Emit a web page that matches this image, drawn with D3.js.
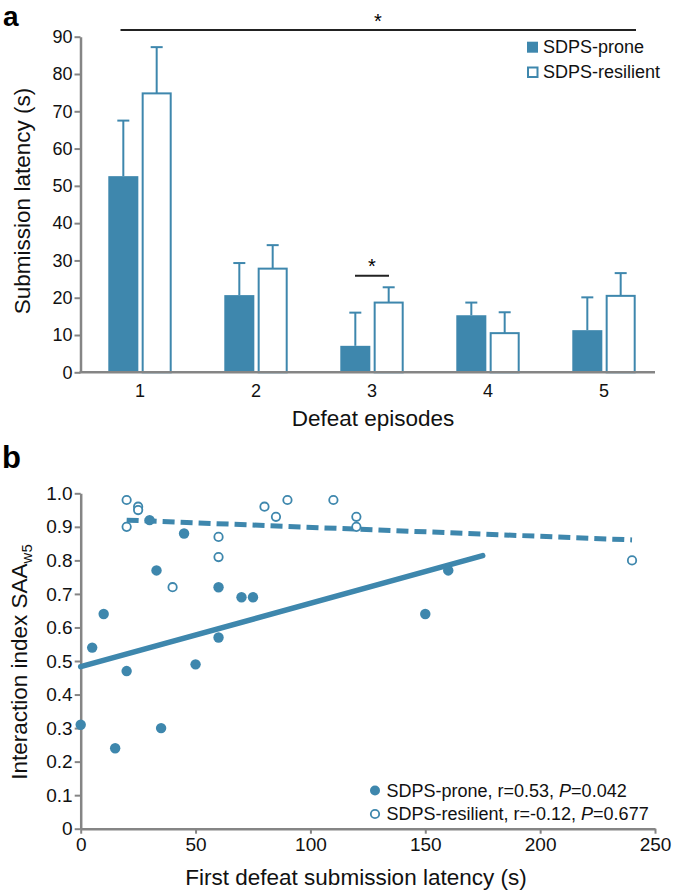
<!DOCTYPE html>
<html>
<head>
<meta charset="utf-8">
<script src="https://cdn.jsdelivr.net/npm/d3@7"></script>
<style>
  html, body { margin: 0; padding: 0; background: #fff; }
  svg { display: block; font-family: "Liberation Sans", Arial, Helvetica, sans-serif; }
</style>
</head>
<body>
<svg id="chart" width="675" height="894"></svg>
<script>
// ---------- Panel a data ----------
const categories = ["1", "2", "3", "4", "5"];
const proneMean = [52.6, 20.7, 7.1, 15.3, 11.3];
const proneErr = [14.9, 8.6, 8.9, 3.4, 8.8];
const resilientMean = [74.8, 27.8, 18.7, 10.5, 20.5];
const resilientErr = [12.4, 6.3, 4.1, 5.6, 6.1];
const aTicks = [0, 10, 20, 30, 40, 50, 60, 70, 80, 90];

// ---------- Panel b data ----------
const proneX = [0, 5, 10, 15, 20, 30, 33, 35, 45, 50, 60, 60, 70, 75, 150, 160];
const proneY = [0.31, 0.54, 0.64, 0.24, 0.47, 0.92, 0.77, 0.30, 0.88, 0.49, 0.72, 0.57, 0.69, 0.69, 0.64, 0.77];
const resilientX = [20, 20, 25, 25, 40, 60, 60, 80, 85, 90, 110, 120, 120, 240];
const resilientY = [0.98, 0.90, 0.96, 0.95, 0.72, 0.87, 0.81, 0.96, 0.93, 0.98, 0.98, 0.93, 0.90, 0.80];
const proneFitX = [0, 175];
const proneFitY = [0.483, 0.814];
const resilientFitX = [20, 240];
const resilientFitY = [0.92, 0.861];
const bXTicks = [0, 50, 100, 150, 200, 250];
const bYTicks = [0, 0.1, 0.2, 0.3, 0.4, 0.5, 0.6, 0.7, 0.8, 0.9, 1.0];

const BLUE = "#3e87ad";
const AXIS = "#858585";
const svg = d3.select("#chart");

// ================= Panel a =================
const ga = svg.append("g");
ga.append("text").attr("x", 3).attr("y", 25.5).attr("font-size", 28).attr("font-weight", "bold").text("a");

const xa = d3.scaleBand().domain(categories).range([82, 662]).paddingInner(0).paddingOuter(0);
const xsub = d3.scaleBand().domain(["prone", "resilient"]).range([26.3, 89.7]).paddingInner(0.1);
const ya = d3.scaleLinear().domain([0, 90]).range([372.3, 36.7]);

const yAxisA = ga.append("g").attr("transform", "translate(80.5,0)")
  .call(d3.axisLeft(ya).tickValues(aTicks).tickSize(6).tickSizeOuter(0).tickPadding(2));
yAxisA.select(".domain").attr("stroke", AXIS).attr("stroke-width", 2.5);
yAxisA.selectAll(".tick line").attr("stroke", AXIS).attr("stroke-width", 2);
yAxisA.selectAll(".tick text").attr("font-size", 18).attr("fill", "#111").attr("font-family", null);

const rows = categories.map((c, i) => ({
  c, pm: proneMean[i], pe: proneErr[i], rm: resilientMean[i], re: resilientErr[i]
}));

const grp = ga.append("g").selectAll("g").data(rows).join("g")
  .attr("transform", d => `translate(${xa(d.c)},0)`);

// error bars (prone)
grp.append("line")
  .attr("x1", xsub("prone") + xsub.bandwidth() / 2).attr("x2", xsub("prone") + xsub.bandwidth() / 2)
  .attr("y1", d => ya(d.pm)).attr("y2", d => ya(d.pm + d.pe))
  .attr("stroke", BLUE).attr("stroke-width", 2);
grp.append("line")
  .attr("x1", xsub("prone") + xsub.bandwidth() / 2 - 6).attr("x2", xsub("prone") + xsub.bandwidth() / 2 + 6)
  .attr("y1", d => ya(d.pm + d.pe)).attr("y2", d => ya(d.pm + d.pe))
  .attr("stroke", BLUE).attr("stroke-width", 2);
// error bars (resilient)
grp.append("line")
  .attr("x1", xsub("resilient") + xsub.bandwidth() / 2).attr("x2", xsub("resilient") + xsub.bandwidth() / 2)
  .attr("y1", d => ya(d.rm)).attr("y2", d => ya(d.rm + d.re))
  .attr("stroke", BLUE).attr("stroke-width", 2);
grp.append("line")
  .attr("x1", xsub("resilient") + xsub.bandwidth() / 2 - 6).attr("x2", xsub("resilient") + xsub.bandwidth() / 2 + 6)
  .attr("y1", d => ya(d.rm + d.re)).attr("y2", d => ya(d.rm + d.re))
  .attr("stroke", BLUE).attr("stroke-width", 2);

// bars
grp.append("rect")
  .attr("x", xsub("prone")).attr("width", xsub.bandwidth())
  .attr("y", d => ya(d.pm)).attr("height", d => ya(0) - ya(d.pm))
  .attr("fill", BLUE);
grp.append("rect")
  .attr("x", xsub("resilient") + 1).attr("width", xsub.bandwidth() - 2)
  .attr("y", d => ya(d.rm)).attr("height", d => ya(0) - ya(d.rm))
  .attr("fill", "#fff").attr("stroke", BLUE).attr("stroke-width", 2);

// x axis
ga.append("line").attr("x1", 79.5).attr("x2", 655).attr("y1", ya(0)).attr("y2", ya(0))
  .attr("stroke", AXIS).attr("stroke-width", 2.5);
const xAxisA = ga.append("g").attr("transform", `translate(0,${ya(0)})`)
  .call(d3.axisBottom(xa).tickSize(0).tickPadding(12));
xAxisA.select(".domain").remove();
xAxisA.selectAll(".tick text").attr("font-size", 18).attr("fill", "#111").attr("font-family", null);

// titles
ga.append("text").attr("x", 373).attr("y", 426).attr("text-anchor", "middle")
  .attr("font-size", 22.5).attr("fill", "#111").text("Defeat episodes");
ga.append("text").attr("transform", "translate(30,201) rotate(-90)").attr("text-anchor", "middle")
  .attr("font-size", 22.5).attr("fill", "#111").text("Submission latency (s)");

// significance
ga.append("line").attr("x1", 120.5).attr("x2", 636).attr("y1", 30).attr("y2", 30)
  .attr("stroke", "#222").attr("stroke-width", 2);
ga.append("text").attr("x", 378).attr("y", 28).attr("text-anchor", "middle").attr("font-size", 20).text("*");
ga.append("line").attr("x1", 355).attr("x2", 389).attr("y1", 275.7).attr("y2", 275.7)
  .attr("stroke", "#222").attr("stroke-width", 2);
ga.append("text").attr("x", 372).attr("y", 273).attr("text-anchor", "middle").attr("font-size", 20).text("*");

// legend a
ga.append("rect").attr("x", 527).attr("y", 41.7).attr("width", 11).attr("height", 11).attr("fill", BLUE);
ga.append("text").attr("x", 543).attr("y", 52.5).attr("font-size", 18).attr("fill", "#111").text("SDPS-prone");
ga.append("rect").attr("x", 528).attr("y", 67.5).attr("width", 9.5).attr("height", 9.5)
  .attr("fill", "#fff").attr("stroke", BLUE).attr("stroke-width", 2);
ga.append("text").attr("x", 543).attr("y", 77.5).attr("font-size", 18).attr("fill", "#111").text("SDPS-resilient");

// ================= Panel b =================
const gb = svg.append("g");
gb.append("text").attr("x", 2).attr("y", 468).attr("font-size", 31).attr("font-weight", "bold").text("b");

const xb = d3.scaleLinear().domain([0, 250]).range([80.7, 655]);
const yb = d3.scaleLinear().domain([0, 1]).range([828.7, 493.3]);

const yAxisB = gb.append("g").attr("transform", "translate(80.7,0)")
  .call(d3.axisLeft(yb).tickValues(bYTicks).tickSize(6).tickSizeOuter(0).tickPadding(2)
    .tickFormat(d => d === 0 ? "0" : d3.format(".1f")(d)));
yAxisB.select(".domain").attr("stroke", AXIS).attr("stroke-width", 2.5);
yAxisB.selectAll(".tick line").attr("stroke", AXIS).attr("stroke-width", 2);
yAxisB.selectAll(".tick text").attr("font-size", 19).attr("fill", "#111").attr("font-family", null);

const xAxisB = gb.append("g").attr("transform", `translate(0,${yb(0)})`)
  .call(d3.axisBottom(xb).tickValues(bXTicks).tickSize(5).tickSizeOuter(0).tickPadding(4));
xAxisB.select(".domain").attr("stroke", AXIS).attr("stroke-width", 2.5);
xAxisB.selectAll(".tick line").attr("stroke", AXIS).attr("stroke-width", 2);
xAxisB.selectAll(".tick text").attr("font-size", 19).attr("fill", "#111").attr("font-family", null);

gb.append("text").attr("x", 356).attr("y", 885).attr("text-anchor", "middle")
  .attr("font-size", 22.5).attr("fill", "#111").text("First defeat submission latency (s)");
const yt = gb.append("text").attr("transform", "translate(27,662) rotate(-90)").attr("text-anchor", "middle")
  .attr("font-size", 22.5).attr("fill", "#111");
yt.append("tspan").text("Interaction index SAA");
yt.append("tspan").attr("font-size", 15).attr("dy", 5).text("w5");

// regression lines
const lineGen = d3.line().x(d => xb(d[0])).y(d => yb(d[1]));
gb.append("path").datum(proneFitX.map((x, i) => [x, proneFitY[i]]))
  .attr("d", lineGen).attr("fill", "none").attr("stroke", BLUE).attr("stroke-width", 5.5)
  .attr("stroke-linecap", "round");
gb.append("path").datum(resilientFitX.map((x, i) => [x, resilientFitY[i]]))
  .attr("d", lineGen).attr("fill", "none").attr("stroke", BLUE).attr("stroke-width", 5)
  .attr("stroke-dasharray", "12,6");

// points
gb.append("g").selectAll("circle").data(resilientX.map((x, i) => [x, resilientY[i]])).join("circle")
  .attr("cx", d => xb(d[0])).attr("cy", d => yb(d[1])).attr("r", 4.2)
  .attr("fill", "#fff").attr("stroke", BLUE).attr("stroke-width", 1.8);
gb.append("g").selectAll("circle").data(proneX.map((x, i) => [x, proneY[i]])).join("circle")
  .attr("cx", d => xb(d[0])).attr("cy", d => yb(d[1])).attr("r", 5.2)
  .attr("fill", BLUE);

// legend b
gb.append("circle").attr("cx", 375).attr("cy", 790.5).attr("r", 5).attr("fill", BLUE);
const lb1 = gb.append("text").attr("x", 386.5).attr("y", 796.5).attr("font-size", 18).attr("fill", "#111");
lb1.append("tspan").text("SDPS-prone, r=0.53, ");
lb1.append("tspan").attr("font-style", "italic").text("P");
lb1.append("tspan").text("=0.042");
gb.append("circle").attr("cx", 375).attr("cy", 814).attr("r", 4.2)
  .attr("fill", "#fff").attr("stroke", BLUE).attr("stroke-width", 1.8);
const lb2 = gb.append("text").attr("x", 386.5).attr("y", 820).attr("font-size", 18).attr("fill", "#111");
lb2.append("tspan").text("SDPS-resilient, r=-0.12, ");
lb2.append("tspan").attr("font-style", "italic").text("P");
lb2.append("tspan").text("=0.677");
</script>
</body>
</html>
